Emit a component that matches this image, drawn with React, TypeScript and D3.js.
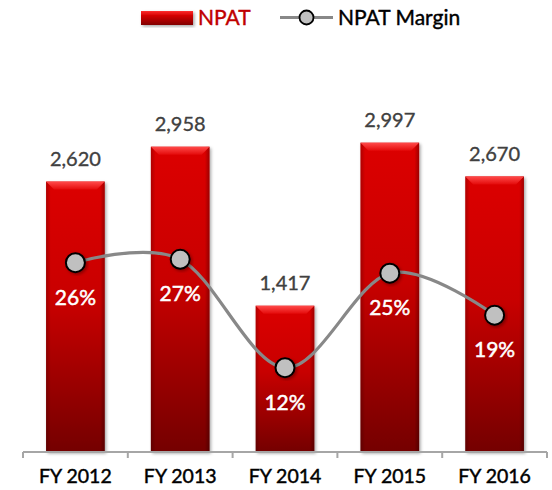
import React from "react";
import * as d3 from "d3";

const years = ["FY 2012", "FY 2013", "FY 2014", "FY 2015", "FY 2016"];
const npat = [2620, 2958, 1417, 2997, 2670];
const margin = [26.2, 26.65, 12.2, 24.8, 19.2];
const marginLabels = ["26%", "27%", "12%", "25%", "19%"];

const W = 552;
const H = 490;
const FONT = "Lato, 'Open Sans', sans-serif";

export default function App() {
  const x = d3.scaleBand<string>().domain(years).range([23, 547]).paddingInner(0.44).paddingOuter(0.22);
  const band = d3.scaleBand<string>().domain(years).range([23, 547]);
  const y = d3.scaleLinear().domain([0, 4000]).range([452, 39.2]);
  const y2 = d3.scaleLinear().domain([0, 56]).range([459.2, 39.2]);

  const pts: [number, number][] = years.map((c, i) => [band(c)! + band.bandwidth() / 2, y2(margin[i])]);
  const line = d3.line().curve(d3.curveCardinal.tension(0))(pts) || "";

  const bev = 8;
  const ticks = [...years.map((c) => band(c)!), 547];

  return (
    <svg width={W} height={H} style={{ position: "absolute", left: 0, top: 0 }} fontFamily={FONT}>
      <defs>
        <linearGradient id="barG" x1="0" y1="0" x2="0" y2="1">
          <stop offset="0" stopColor="#dc0000" />
          <stop offset="0.45" stopColor="#c80000" />
          <stop offset="1" stopColor="#740000" />
        </linearGradient>
        <linearGradient id="bevG" x1="0" y1="0" x2="0" y2="1">
          <stop offset="0" stopColor="#ff4a4a" />
          <stop offset="1" stopColor="#e40a0a" />
        </linearGradient>
        <linearGradient id="sideG" x1="0" y1="0" x2="1" y2="0">
          <stop offset="0" stopColor="#000" stopOpacity="0.2" />
          <stop offset="0.08" stopColor="#000" stopOpacity="0" />
          <stop offset="0.92" stopColor="#000" stopOpacity="0" />
          <stop offset="1" stopColor="#000" stopOpacity="0.28" />
        </linearGradient>
        <linearGradient id="legG" x1="0" y1="0" x2="0" y2="1">
          <stop offset="0" stopColor="#ff3030" />
          <stop offset="0.3" stopColor="#d80000" />
          <stop offset="1" stopColor="#800000" />
        </linearGradient>
        <filter id="shadow" x="-20%" y="-20%" width="140%" height="140%">
          <feDropShadow dx="1.5" dy="1.5" stdDeviation="1.5" floodColor="#000" floodOpacity="0.35" />
        </filter>
      </defs>

      {/* legend */}
      <g>
        <rect x={141} y={11} width={52} height={14} fill="url(#legG)" filter="url(#shadow)" />
        <text x={198} y={25} fontSize={21} fill="#c00000" stroke="#c00000" strokeWidth={0.4}>NPAT</text>
        <line x1={280} x2={333} y1={17.5} y2={17.5} stroke="#888" strokeWidth={3} />
        <circle cx={306.5} cy={17.5} r={7} fill="#c0c0c0" stroke="#000" strokeWidth={1.8} />
        <text x={338} y={25} fontSize={21} fill="#000" stroke="#000" strokeWidth={0.4}>NPAT Margin</text>
      </g>

      {/* bars */}
      {years.map((c, i) => {
        const bx = x(c)!;
        const bw = x.bandwidth();
        const top = y(npat[i]);
        const bot = y(0);
        return (
          <g key={c}>
            <rect x={bx} y={top} width={bw} height={bot - top} fill="url(#barG)" filter="url(#shadow)" />
            <rect x={bx} y={top} width={bw} height={bot - top} fill="url(#sideG)" />
            <polygon
              points={`${bx},${top} ${bx + bw},${top} ${bx + bw - bev},${top + bev} ${bx + bev},${top + bev}`}
              fill="url(#bevG)"
            />
            <text x={bx + bw / 2} y={top - 15.5} textAnchor="middle" fontSize={20} fill="#404040"
              stroke="#404040" strokeWidth={0.35}>
              {d3.format(",")(npat[i])}
            </text>
          </g>
        );
      })}

      {/* axis */}
      <g stroke="#a6a6a6" strokeWidth={2}>
        <line x1={23} x2={547} y1={y(0)} y2={y(0)} />
        {ticks.map((t, i) => (
          <line key={i} x1={t} x2={t} y1={y(0)} y2={y(0) + 6} />
        ))}
      </g>
      {years.map((c) => (
        <text key={c} x={band(c)! + band.bandwidth() / 2} y={483} textAnchor="middle" fontSize={19.5} fill="#000"
          stroke="#000" strokeWidth={0.45}>
          {c}
        </text>
      ))}

      {/* margin line */}
      <path d={line} fill="none" stroke="#888" strokeWidth={3.2} />
      {pts.map((p, i) => (
        <g key={i}>
          <circle cx={p[0]} cy={p[1]} r={9.5} fill="#c0c0c0" stroke="#000" strokeWidth={2} filter="url(#shadow)" />
          <text x={p[0]} y={p[1] + 42} textAnchor="middle" fontSize={21} fill="#fff" stroke="#fff" strokeWidth={0.5}>
            {marginLabels[i]}
          </text>
        </g>
      ))}
    </svg>
  );
}
